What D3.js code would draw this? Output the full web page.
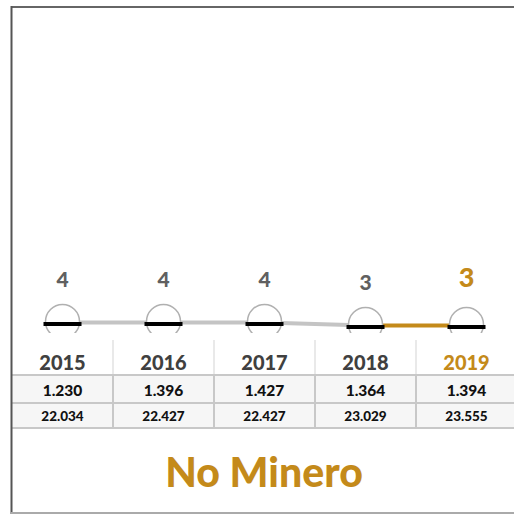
<!DOCTYPE html>
<html>
<head>
<meta charset="utf-8">
<script src="https://cdn.jsdelivr.net/npm/d3@7"></script>
<style>
	body { margin: 0; background: #fff; }
	svg { display: block; font-family: Lato, "Open Sans", sans-serif; }
</style>
</head>
<body>
<div id="chart"></div>
<script>
var years = ["2015", "2016", "2017", "2018", "2019"];
var values = [4, 4, 4, 3, 3];
var rowOne = ["1.230", "1.396", "1.427", "1.364", "1.394"];
var rowTwo = ["22.034", "22.427", "22.427", "23.029", "23.555"];
var title = "No Minero";

var gold = "#c48a1a";
var width = 514, height = 514;

var svg = d3.select("#chart").append("svg")
	.attr("width", width)
	.attr("height", height);

// columns
var x = d3.scaleBand().domain(years).range([12, 517]).padding(0);
var cx = function(d) { return x(d) + x.bandwidth() / 2; };

// value scale (3px per unit)
var y = d3.scaleLinear().domain([0, 100]).range([334.5, 34.5]);

var isLast = function(i) { return i === years.length - 1; };

// table rows background
svg.append("rect").attr("x", 12).attr("y", 375).attr("width", 502).attr("height", 53).attr("fill", "#f6f6f6");

// vertical dividers
svg.selectAll("line.vhead").data(years.slice(1)).enter().append("line")
	.attr("x1", function(d) { return x(d); }).attr("x2", function(d) { return x(d); })
	.attr("y1", 340).attr("y2", 375)
	.attr("stroke", "#e2e2e2").attr("stroke-width", 1.5);
svg.selectAll("line.vrow").data(years.slice(1)).enter().append("line")
	.attr("x1", function(d) { return x(d); }).attr("x2", function(d) { return x(d); })
	.attr("y1", 375).attr("y2", 428)
	.attr("stroke", "#c8c8c8").attr("stroke-width", 2);

// horizontal lines
svg.selectAll("line.h").data([375, 403, 428]).enter().append("line")
	.attr("x1", 12).attr("x2", 514)
	.attr("y1", function(d) { return d; }).attr("y2", function(d) { return d; })
	.attr("stroke", "#c8c8c8").attr("stroke-width", 2);

// connecting segments
var pts = years.map(function(d, i) { return {x: cx(d), y: y(values[i])}; });
for (var i = 0; i < pts.length - 1; i++) {
	svg.append("line")
		.attr("x1", pts[i].x).attr("y1", pts[i].y)
		.attr("x2", pts[i + 1].x).attr("y2", pts[i + 1].y)
		.attr("stroke", isLast(i + 1) ? gold : "#c4c4c4")
		.attr("stroke-width", 4);
}

// markers: half circles clipped at the bottom
svg.append("defs").append("clipPath").attr("id", "cut")
	.append("rect").attr("x", 0).attr("y", 0).attr("width", width).attr("height", 333);

var marks = svg.selectAll("g.mark").data(years).enter().append("g")
	.attr("class", "mark")
	.attr("clip-path", "url(#cut)");

marks.append("circle")
	.attr("cx", cx)
	.attr("cy", function(d, i) { return y(values[i]) - 1; })
	.attr("r", 17)
	.attr("fill", "#fff")
	.attr("stroke", "#b0b0b0")
	.attr("stroke-width", 1.5);

marks.append("line")
	.attr("x1", function(d) { return cx(d) - 19; })
	.attr("x2", function(d) { return cx(d) + 19; })
	.attr("y1", function(d, i) { return y(values[i]) + 1.5; })
	.attr("y2", function(d, i) { return y(values[i]) + 1.5; })
	.attr("stroke", "#000").attr("stroke-width", 4);

// value labels
svg.selectAll("text.val").data(years).enter().append("text")
	.attr("x", cx)
	.attr("y", function(d, i) { return y(values[i]) - 36 + (isLast(i) ? -3 : 0); })
	.attr("text-anchor", "middle")
	.attr("font-weight", 900)
	.attr("font-size", function(d, i) { return isLast(i) ? 27 : 21; })
	.attr("fill", function(d, i) { return isLast(i) ? gold : "#606060"; })
	.text(function(d, i) { return values[i]; });

// year headers
svg.selectAll("text.year").data(years).enter().append("text")
	.attr("x", cx).attr("y", 370)
	.attr("text-anchor", "middle")
	.attr("font-weight", 900)
	.attr("font-size", 20)
	.attr("fill", function(d, i) { return isLast(i) ? gold : "#404040"; })
	.text(function(d) { return d; });

svg.selectAll("text.r1").data(years).enter().append("text")
	.attr("x", cx).attr("y", 395.5)
	.attr("text-anchor", "middle")
	.attr("font-weight", 900)
	.attr("font-size", 15.5)
	.attr("fill", "#111")
	.text(function(d, i) { return rowOne[i]; });

svg.selectAll("text.r2").data(years).enter().append("text")
	.attr("x", cx).attr("y", 420.5)
	.attr("text-anchor", "middle")
	.attr("font-weight", 900)
	.attr("font-size", 13.5)
	.attr("fill", "#111")
	.text(function(d, i) { return rowTwo[i]; });

// title
svg.append("text")
	.attr("x", 264).attr("y", 487)
	.attr("text-anchor", "middle")
	.attr("font-weight", 900)
	.attr("font-size", 41)
	.attr("fill", gold)
	.text(title);

// frame
svg.append("line").attr("x1", 11).attr("x2", 514).attr("y1", 7).attr("y2", 7)
	.attr("stroke", "#666").attr("stroke-width", 2);
svg.append("line").attr("x1", 11.5).attr("x2", 11.5).attr("y1", 6).attr("y2", 514)
	.attr("stroke", "#555").attr("stroke-width", 2);
svg.append("line").attr("x1", 11).attr("x2", 514).attr("y1", 513).attr("y2", 513)
	.attr("stroke", "#aaa").attr("stroke-width", 2);
</script>
</body>
</html>
